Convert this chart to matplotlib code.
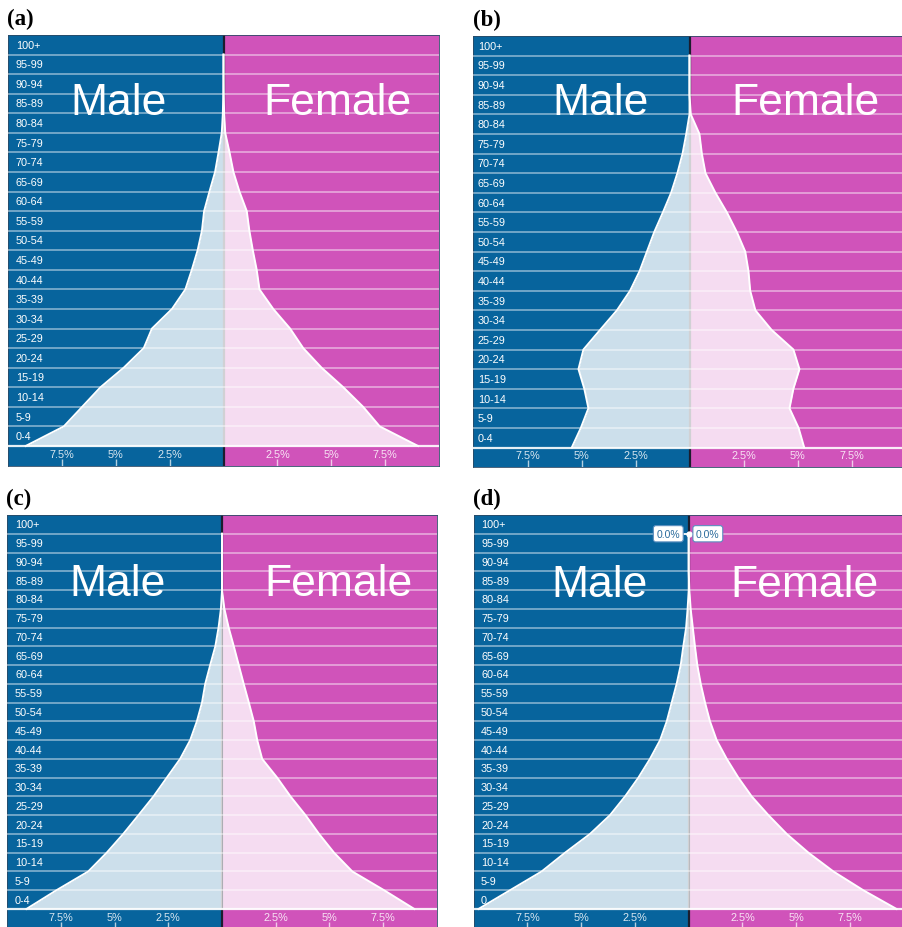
import numpy as np
import matplotlib.pyplot as plt

plt.rcParams['font.family'] = ['Liberation Sans', 'DejaVu Sans']

# age groups, bottom to top
ages = ['0-4', '5-9', '10-14', '15-19', '20-24', '25-29', '30-34', '35-39',
        '40-44', '45-49', '50-54', '55-59', '60-64', '65-69', '70-74',
        '75-79', '80-84', '85-89', '90-94', '95-99', '100+']

# share of population (%) per age group
male_a = [9.18, 7.41, 6.56, 5.71, 4.63, 3.70, 3.32, 2.39, 1.77, 1.47, 1.20,
          1.00, 0.90, 0.65, 0.39, 0.23, 0.08, 0.03, 0.01, 0.0, 0.0]
female_a = [9.03, 7.25, 6.48, 5.56, 4.55, 3.70, 3.09, 2.31, 1.67, 1.54, 1.36,
            1.20, 1.08, 0.74, 0.46, 0.28, 0.08, 0.03, 0.01, 0.0, 0.0]

male_b = [5.45, 5.03, 4.68, 4.87, 5.14, 4.91, 4.14, 3.36, 2.75, 2.31, 1.97,
          1.63, 1.23, 0.85, 0.56, 0.32, 0.15, 0.0, 0.0, 0.0, 0.0]
female_b = [5.31, 5.05, 4.63, 4.81, 5.09, 4.81, 3.80, 3.05, 2.81, 2.73, 2.58,
            2.19, 1.73, 1.20, 0.74, 0.57, 0.46, 0.06, 0.0, 0.0, 0.0]

male_c = [9.11, 7.71, 6.23, 5.37, 4.60, 3.89, 3.19, 2.57, 1.95, 1.48, 1.17,
          0.93, 0.78, 0.55, 0.31, 0.16, 0.05, 0.0, 0.0, 0.0, 0.0]
female_c = [8.96, 7.55, 6.07, 5.22, 4.52, 3.89, 3.19, 2.57, 1.87, 1.64, 1.48,
            1.25, 1.01, 0.78, 0.55, 0.31, 0.11, 0.0, 0.0, 0.0, 0.0]

male_d = [9.78, 8.31, 6.84, 5.75, 4.59, 3.66, 2.96, 2.34, 1.80, 1.33, 1.02,
          0.79, 0.56, 0.37, 0.25, 0.12, 0.05, 0.0, 0.0, 0.0, 0.0]
female_d = [9.67, 8.12, 6.73, 5.57, 4.56, 3.71, 2.93, 2.31, 1.77, 1.30, 0.99,
            0.76, 0.56, 0.40, 0.29, 0.19, 0.09, 0.03, 0.0, 0.0, 0.0]

ticks = [-7.5, -5, -2.5, 2.5, 5, 7.5]
tick_labels = ['7.5%', '5%', '2.5%', '2.5%', '5%', '7.5%']

BLUE = '#07649d'
PINK = '#d053ba'
W, H = 902, 928

fig = plt.figure(figsize=(W / 100, H / 100), dpi=100)
fig.patch.set_facecolor('white')


def panel(box, base, male, female, tag, word_x, word_y, lab_pad,
          first='0-4', hover=False):
    x0, x1, top, bottom = box
    ax = fig.add_axes([x0 / W, 1 - bottom / H, (x1 - x0) / W, (bottom - top) / H])
    n = len(ages)
    pitch = (base - top) / n
    ax.set_xlim(-10, 10)
    ax.set_ylim(-(bottom - base) / pitch, n)

    ax.axvspan(-10, 0, color=BLUE, lw=0, zorder=0)
    ax.axvspan(0, 10, color=PINK, lw=0, zorder=0)
    ax.axvline(0, color='#1b1d2e', lw=1.6, zorder=1)

    y = np.arange(n)
    m = -np.array(male)
    f = np.array(female)
    ax.fill_betweenx(y, m, 0, color='white', alpha=0.8, lw=0, zorder=2)
    ax.fill_betweenx(y, 0, f, color='white', alpha=0.8, lw=0, zorder=2)
    ax.plot(m, y, color='white', lw=1.4, zorder=3)
    ax.plot(f, y, color='white', lw=1.4, zorder=3)

    for k in range(n):
        ax.axhline(k, color='white', alpha=0.9 if k == 0 else 0.5,
                   lw=1.6 if k == 0 else 1.2, zorder=4)

    labels = [first] + ages[1:]
    for k, lab in enumerate(labels):
        ax.text(-10 + lab_pad, k + 0.5, lab, color='white', fontsize=7.8,
                ha='left', va='center', zorder=5)

    ax.text(word_x[0], word_y, 'Male', color='white', fontsize=32,
            ha='center', va='baseline', zorder=5)
    ax.text(word_x[1], word_y, 'Female', color='white', fontsize=32,
            ha='center', va='baseline', zorder=5)

    if hover:
        ax.plot([-0.35, 0.35], [n - 1, n - 1], color='white', lw=1.2, zorder=6)
        ax.plot([0], [n - 1], 'o', color='white', ms=3.5, zorder=6)
        box_style = dict(boxstyle='round,pad=0.3,rounding_size=0.25',
                         fc='white', ec='#5b8fbf', lw=0.8)
        ax.text(-0.4, n - 1, '%.1f%%' % male[-1], ha='right', va='center',
                fontsize=7.5, color='#2a6b9c', bbox=box_style, zorder=7)
        ax.text(0.34, n - 1, '%.1f%%' % female[-1], ha='left', va='center',
                fontsize=7.5, color='#2a6b9c', bbox=box_style, zorder=7)

    ax.set_yticks([])
    ax.set_xticks(ticks)
    ax.set_xticklabels(tick_labels)
    ax.tick_params(axis='x', direction='in', length=5, width=1,
                   color=(1, 1, 1, 0.7), labelcolor=(1, 1, 1, 0.85),
                   labelsize=7.8, pad=-12.5)
    for s in ax.spines.values():
        s.set_color('#2c4a66')
        s.set_linewidth(0.6)

    fig.text(box[0] / W - 0.001, 1 - (top - 11) / H, tag, fontfamily='Liberation Serif',
             fontweight='bold', fontsize=16.5, ha='left', va='baseline')
    return ax


panel((8, 439, 36, 467), 447, male_a, female_a, '(a)', (-4.87, 5.31), 16.95, 0.36)
panel((473.5, 905.5, 37, 468), 448.5, male_b, female_b, '(b)', (-4.13, 5.35), 17.0, 0.2)
panel((7.3, 436.7, 516, 930), 910, male_c, female_c, '(c)', (-4.85, 5.43), 16.74, 0.36)
panel((473.7, 903.7, 516, 930), 910, male_d, female_d, '(d)', (-4.13, 5.40), 16.70, 0.34,
      first='0', hover=True)

fig.savefig('out.png', dpi=100)
